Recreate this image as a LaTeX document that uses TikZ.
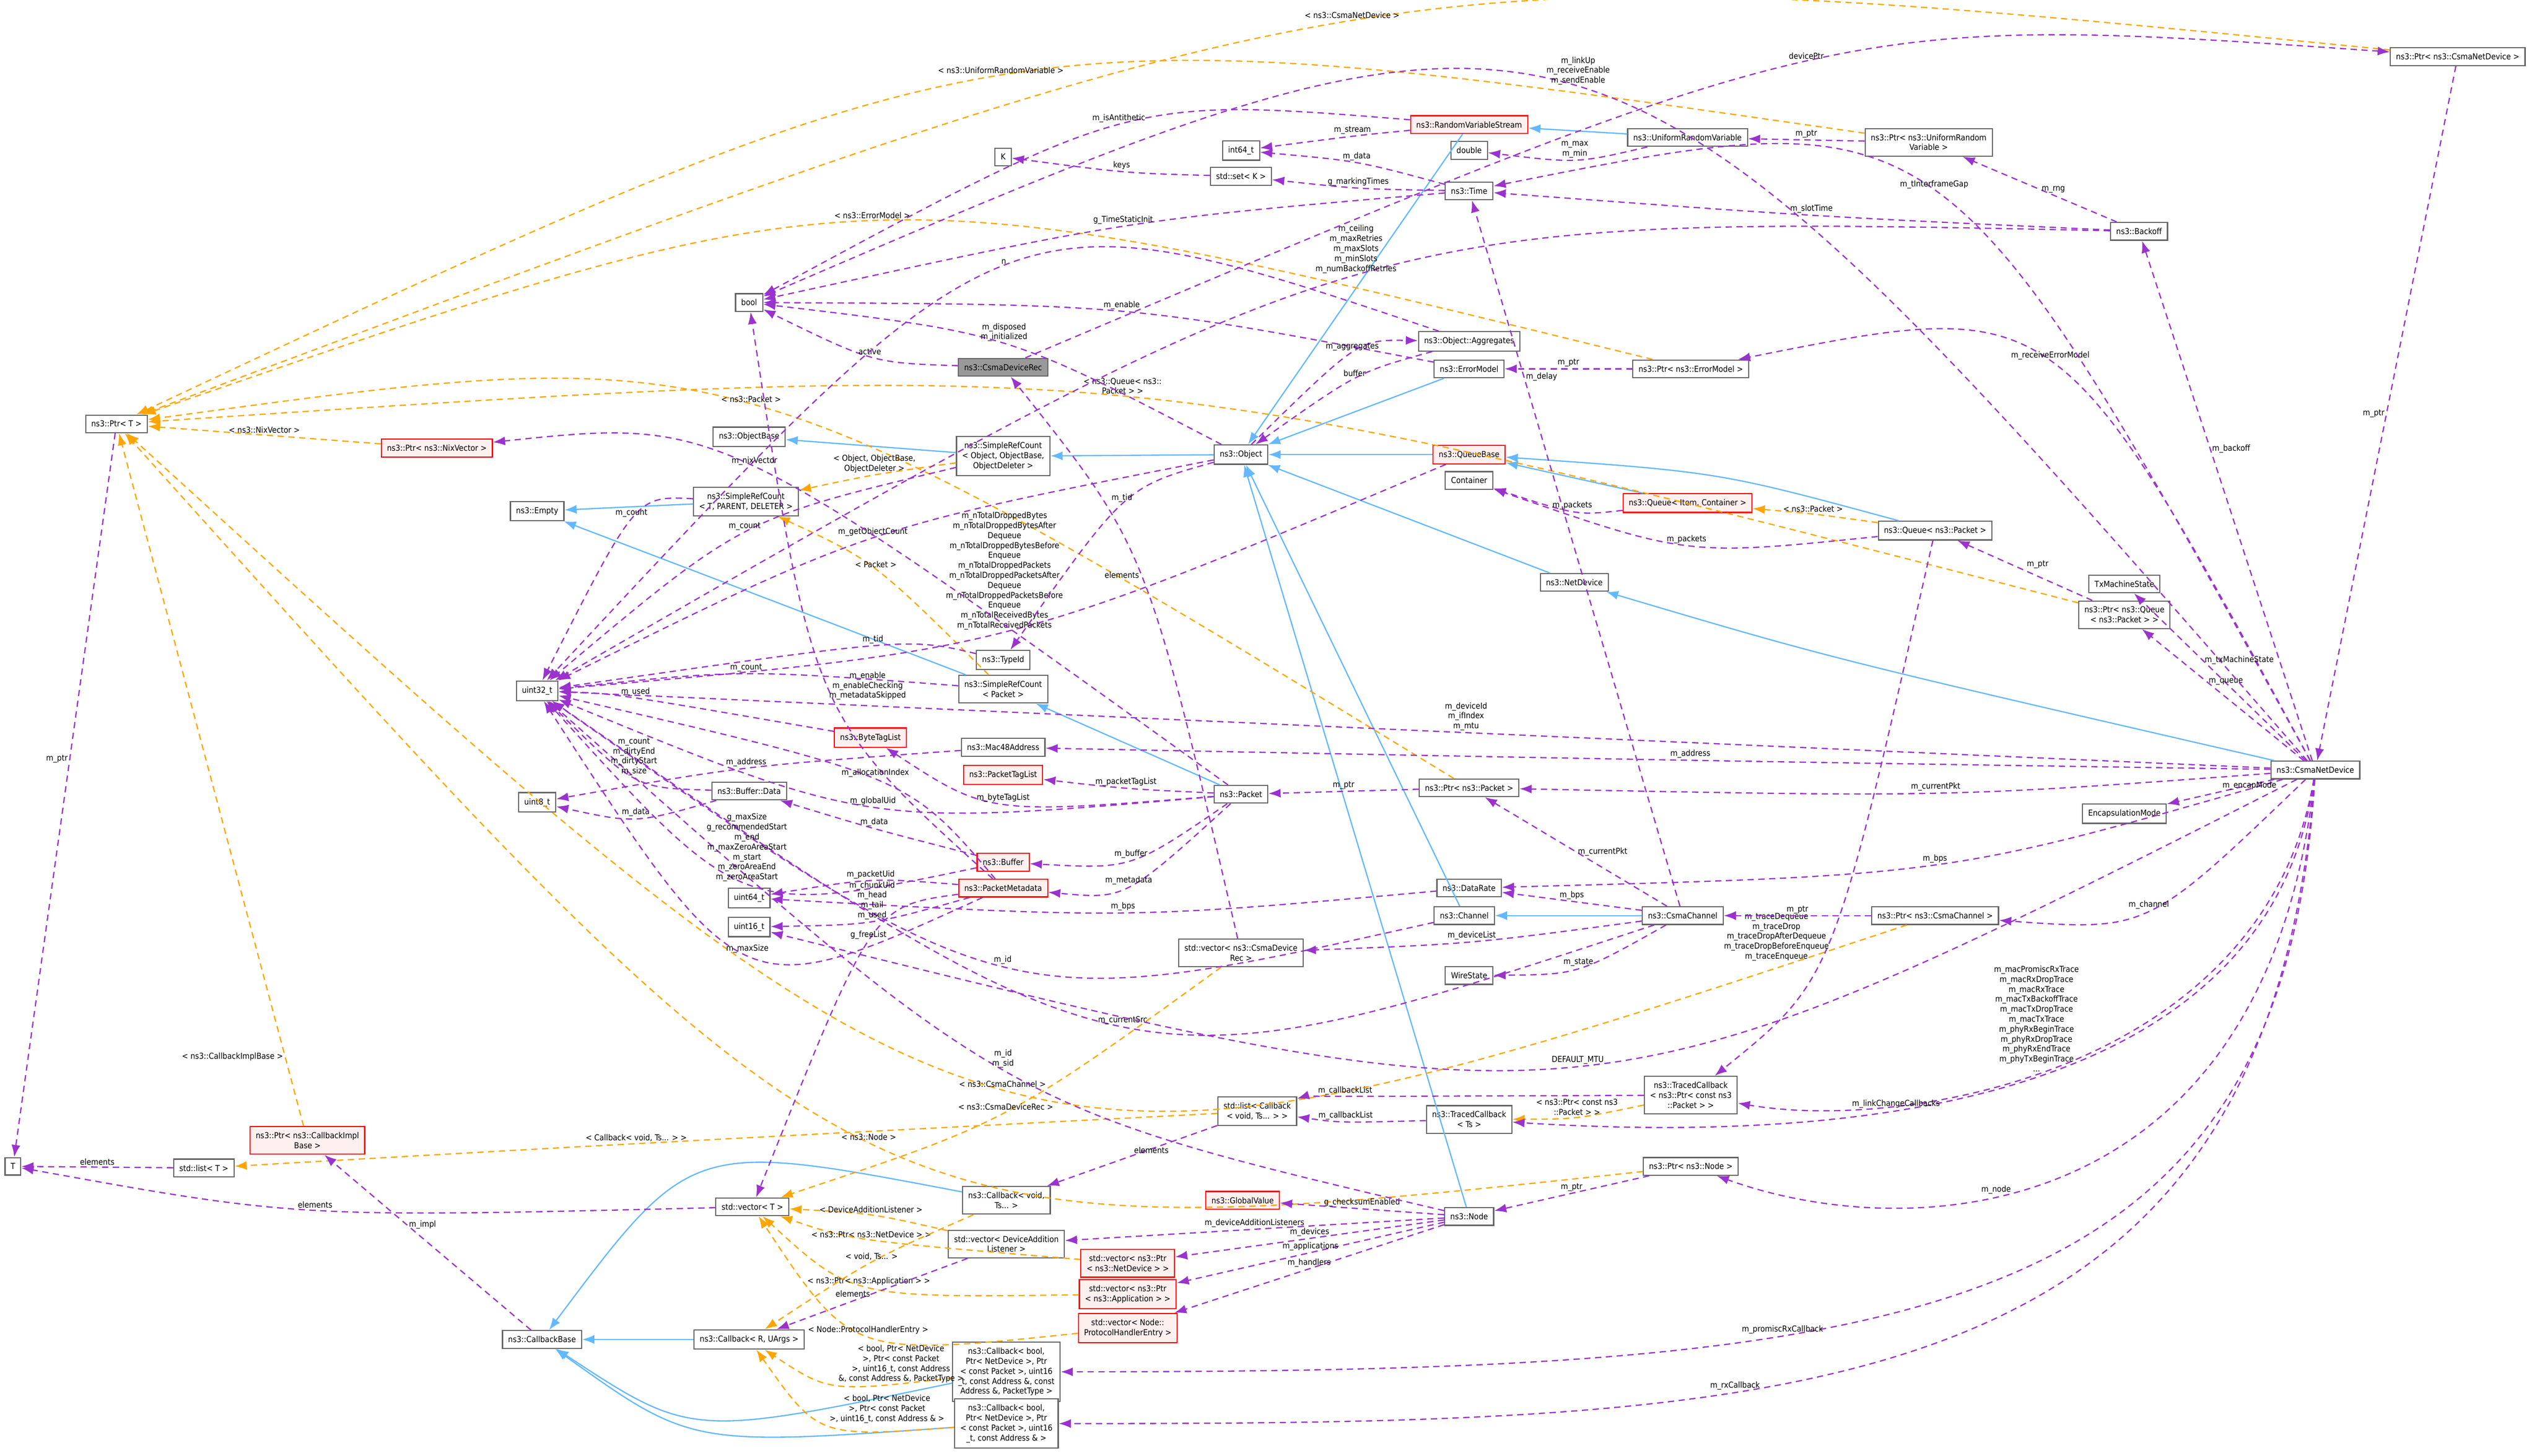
\documentclass[tikz,border=0pt]{standalone}
\usepackage{fontspec}
\setmainfont{DejaVu Sans Condensed}
\usetikzlibrary{arrows.meta,positioning,calc}
\definecolor{usecol}{HTML}{9A32CD}
\definecolor{tmplcol}{HTML}{FFA500}
\definecolor{inhcol}{HTML}{63B8FF}

\begin{document}
\begin{tikzpicture}[x=1mm, y=-1mm,
    font=\fontsize{1.45pt}{1.75pt}\selectfont,
    box/.style={rectangle, draw=black!60, line width=0.2pt, fill=white, inner sep=0.35mm, minimum height=1mm, align=center},
    redbox/.style={box, draw=red, fill=red!6},
    greybox/.style={box, fill=black!40},
    use/.style={-{Latex[length=0.75mm,width=0.55mm]}, draw=usecol, line width=0.22pt, dash pattern=on 1.1pt off 0.8pt},
    tmpl/.style={-{Latex[length=0.75mm,width=0.55mm]}, draw=tmplcol, line width=0.22pt, dash pattern=on 1.1pt off 0.8pt},
    inh/.style={-{Latex[length=0.75mm,width=0.55mm]}, draw=inhcol, line width=0.22pt},
    lbl/.style={fill=none, inner sep=0.25pt, align=center}
]
    \useasboundingbox (0,0) rectangle (156.8,90);

    % types
    \node[box] (ptrT) at (7.2,26.2) {ns3::Ptr< T >};
    \node[box] (T) at (0.8,72.1) {T};
    \node[box] (listT) at (12.6,72.2) {std::list< T >};
    \node[redbox] (ptrCbImpl) at (19.0,70.5) {ns3::Ptr< ns3::CallbackImpl\\Base >};
    \node[box] (cbBase) at (33.5,82.8) {ns3::CallbackBase};
    \node[box] (cbRU) at (46.3,82.8) {ns3::Callback< R, UArgs >};
    \node[box] (vecT) at (46.5,74.6) {std::vector< T >};
    \node[box] (cbVoid) at (62.2,74.2) {ns3::Callback< void,\\Ts... >};
    \node[box] (vecDAL) at (62.2,76.9) {std::vector< DeviceAddition\\Listener >};
    \node[redbox] (vecNetDev) at (69.7,78.1) {std::vector< ns3::Ptr\\< ns3::NetDevice > >};
    \node[redbox] (vecApp) at (69.7,80.0) {std::vector< ns3::Ptr\\< ns3::Application > >};
    \node[redbox] (vecPHE) at (69.7,82.1) {std::vector< Node::\\ProtocolHandlerEntry >};
    \node[box] (cbRx5) at (62.2,84.8) {ns3::Callback< bool,\\Ptr< NetDevice >, Ptr\\< const Packet >, uint16\\\_t, const Address \&, const\\Address \&, PacketType >};
    \node[box] (cbRx4) at (62.2,88.0) {ns3::Callback< bool,\\Ptr< NetDevice >, Ptr\\< const Packet >, uint16\\\_t, const Address \& >};
    \node[redbox] (globalValue) at (76.8,74.2) {ns3::GlobalValue};
    \node[box] (node) at (90.8,75.2) {ns3::Node};
    \node[box] (ptrNode) at (104.5,72.1) {ns3::Ptr< ns3::Node >};
    \node[box] (listCb) at (77.7,68.7) {std::list< Callback\\< void, Ts... > >};
    \node[box] (tracedTs) at (90.8,69.2) {ns3::TracedCallback\\< Ts >};
    \node[box] (tracedPkt) at (104.5,67.7) {ns3::TracedCallback\\< ns3::Ptr< const ns3\\::Packet > >};
    \node[box] (vecDevRec) at (76.7,58.9) {std::vector< ns3::CsmaDevice\\Rec >};
    \node[box] (wireState) at (90.8,60.3) {WireState};
    \node[box] (channel) at (90.5,56.6) {ns3::Channel};
    \node[box] (csmaChannel) at (104.0,56.6) {ns3::CsmaChannel};
    \node[box] (ptrChannel) at (119.6,56.6) {ns3::Ptr< ns3::CsmaChannel >};
    \node[box] (dataRate) at (90.8,54.9) {ns3::DataRate};
    \node[box] (ptrPacket) at (90.8,48.7) {ns3::Ptr< ns3::Packet >};
    \node[box] (packet) at (76.7,49.1) {ns3::Packet};
    \node[redbox] (buffer) at (62.0,53.3) {ns3::Buffer};
    \node[redbox] (pktMeta) at (62.0,54.9) {ns3::PacketMetadata};
    \node[redbox] (pktTag) at (62.0,47.9) {ns3::PacketTagList};
    \node[box] (mac48) at (62.0,46.2) {ns3::Mac48Address};
    \node[redbox] (byteTag) at (53.8,45.6) {ns3::ByteTagList};
    \node[box] (bufData) at (46.3,48.9) {ns3::Buffer::Data};
    \node[box] (uint8) at (33.2,49.6) {uint8\_t};
    \node[box] (uint64) at (46.3,55.5) {uint64\_t};
    \node[box] (uint16) at (46.3,57.3) {uint16\_t};
    \node[box] (uint32) at (33.2,42.7) {uint32\_t};
    \node[box] (refPacket) at (62.0,42.6) {ns3::SimpleRefCount\\< Packet >};
    \node[box] (typeId) at (62.0,40.8) {ns3::TypeId};
    \node[box] (refTPD) at (46.1,31.0) {ns3::SimpleRefCount\\< T, PARENT, DELETER >};
    \node[box] (empty) at (33.2,31.6) {ns3::Empty};
    \node[box] (objBase) at (46.3,27.0) {ns3::ObjectBase};
    \node[box] (refObj) at (62.0,28.2) {ns3::SimpleRefCount\\< Object, ObjectBase,\\ObjectDeleter >};
    \node[redbox] (ptrNix) at (27.0,27.7) {ns3::Ptr< ns3::NixVector >};
    \node[greybox] (devRec) at (62.0,22.7) {ns3::CsmaDeviceRec};
    \node[box] (bool) at (46.3,18.7) {bool};
    \node[box] (object) at (76.7,28.1) {ns3::Object};
    \node[box] (aggr) at (90.8,21.1) {ns3::Object::Aggregates};
    \node[box] (errModel) at (90.8,22.8) {ns3::ErrorModel};
    \node[box] (ptrErr) at (104.5,22.8) {ns3::Ptr< ns3::ErrorModel >};
    \node[redbox] (queueBase) at (90.8,28.1) {ns3::QueueBase};
    \node[box] (container) at (90.8,29.7) {Container};
    \node[redbox] (queueIC) at (104.3,31.1) {ns3::Queue< Item, Container >};
    \node[box] (queuePkt) at (119.6,32.8) {ns3::Queue< ns3::Packet >};
    \node[box] (netDevice) at (97.3,36.0) {ns3::NetDevice};
    \node[box] (txState) at (131.3,36.1) {TxMachineState};
    \node[box] (ptrQueue) at (131.3,38.0) {ns3::Ptr< ns3::Queue\\< ns3::Packet > >};
    \node[box] (encap) at (131.3,50.3) {EncapsulationMode};
    \node[box] (csmaDev) at (143.1,47.6) {ns3::CsmaNetDevice};
    \node[box] (ptrCsmaDev) at (151.9,3.5) {ns3::Ptr< ns3::CsmaNetDevice >};
    \node[redbox] (rvs) at (90.8,7.7) {ns3::RandomVariableStream};
    \node[box] (urv) at (104.3,8.5) {ns3::UniformRandomVariable};
    \node[box] (ptrUrv) at (119.2,8.8) {ns3::Ptr< ns3::UniformRandom\\Variable >};
    \node[box] (double) at (90.8,9.3) {double};
    \node[box] (int64) at (76.7,9.3) {int64\_t};
    \node[box] (K) at (62.0,9.7) {K};
    \node[box] (setK) at (76.7,10.9) {std::set< K >};
    \node[box] (time) at (90.8,11.8) {ns3::Time};
    \node[box] (backoff) at (132.2,14.3) {ns3::Backoff};

    % inheritance
    \draw[inh] (refObj) -- (objBase);
    \draw[inh] (refTPD) -- (empty);
    \draw[inh] (refPacket) .. controls ($1.3333*(50,38)-0.1667*(refPacket)-0.1667*(empty)$) .. (empty);
    \draw[inh] (object) -- (refObj);
    \draw[inh] (packet) -- (refPacket);
    \draw[inh] (rvs) -- (object);
    \draw[inh] (errModel) -- (object);
    \draw[inh] (queueBase) -- (object);
    \draw[inh] (netDevice) -- (object);
    \draw[inh] (channel) -- (object);
    \draw[inh] (node) -- (object);
    \draw[inh] (urv) -- (rvs);
    \draw[inh] (queueIC) -- (queueBase);
    \draw[inh] (queuePkt) .. controls ($1.3333*(106,29.5)-0.1667*(queuePkt)-0.1667*(queueBase)$) .. (queueBase);
    \draw[inh] (csmaDev) .. controls ($1.3333*(115,41.0)-0.1667*(csmaDev)-0.1667*(netDevice)$) .. (netDevice);
    \draw[inh] (csmaChannel) -- (channel);
    \draw[inh] (cbRU) -- (cbBase);
    \draw[inh] (cbVoid) .. controls ($1.3333*(44,72.5)-0.1667*(cbVoid)-0.1667*(cbBase)$) .. (cbBase);
    \draw[inh] (cbRx5) .. controls ($1.3333*(44,87.6)-0.1667*(cbRx5)-0.1667*(cbBase)$) .. (cbBase);
    \draw[inh] (cbRx4) .. controls ($1.3333*(44,88.4)-0.1667*(cbRx4)-0.1667*(cbBase)$) .. (cbBase);

    % template instances
    \draw[tmpl] (ptrCsmaDev) .. controls ($1.3333*(83.9,1.4)-0.1667*(ptrCsmaDev)-0.1667*(ptrT)$) .. (ptrT) node[lbl,midway,above]{< ns3::CsmaNetDevice >};
    \draw[tmpl] (ptrUrv) .. controls ($1.3333*(62.2,4.8)-0.1667*(ptrUrv)-0.1667*(ptrT)$) .. (ptrT) node[lbl,midway,above]{< ns3::UniformRandomVariable >};
    \draw[tmpl] (ptrErr) .. controls ($1.3333*(54.0,13.8)-0.1667*(ptrErr)-0.1667*(ptrT)$) .. (ptrT) node[lbl,midway,above]{< ns3::ErrorModel >};
    \draw[tmpl] (ptrQueue) .. controls ($1.3333*(69.5,24.6)-0.1667*(ptrQueue)-0.1667*(ptrT)$) .. (ptrT) node[lbl,midway,above]{< ns3::Queue< ns3::\\Packet > >};
    \draw[tmpl] (ptrPacket) .. controls ($1.3333*(46.3,25.1)-0.1667*(ptrPacket)-0.1667*(ptrT)$) .. (ptrT) node[lbl,midway,above]{< ns3::Packet >};
    \draw[tmpl] (ptrNix) -- node[lbl,midway,above]{< ns3::NixVector >} (ptrT);
    \draw[tmpl] (ptrChannel) .. controls ($1.3333*(62.1,67.2)-0.1667*(ptrChannel)-0.1667*(ptrT)$) .. (ptrT) node[lbl,midway,above]{< ns3::CsmaChannel >};
    \draw[tmpl] (ptrNode) .. controls ($1.3333*(54.0,70.5)-0.1667*(ptrNode)-0.1667*(ptrT)$) .. (ptrT) node[lbl,midway,above]{< ns3::Node >};
    \draw[tmpl] (ptrCbImpl) -- node[lbl,pos=0.1,left]{< ns3::CallbackImplBase >} (ptrT);
    \draw[tmpl] (listCb) .. controls ($1.3333*(39.4,70.7)-0.1667*(listCb)-0.1667*(listT)$) .. (listT) node[lbl,midway,above]{< Callback< void, Ts... > >};
    \draw[tmpl] (vecDevRec) .. controls ($1.3333*(62.1,68.7)-0.1667*(vecDevRec)-0.1667*(vecT)$) .. (vecT) node[lbl,midway,above]{< ns3::CsmaDeviceRec >};
    \draw[tmpl] (vecDAL) .. controls ($1.3333*(54.0,75.2)-0.1667*(vecDAL)-0.1667*(vecT)$) .. (vecT) node[lbl,midway,above]{< DeviceAdditionListener >};
    \draw[tmpl] (vecNetDev) .. controls ($1.3333*(54.0,76.6)-0.1667*(vecNetDev)-0.1667*(vecT)$) .. (vecT) node[lbl,midway,above]{< ns3::Ptr< ns3::NetDevice > >};
    \draw[tmpl] (vecApp) .. controls ($1.3333*(54.0,79.5)-0.1667*(vecApp)-0.1667*(vecT)$) .. (vecT) node[lbl,midway,above]{< ns3::Ptr< ns3::Application > >};
    \draw[tmpl] (vecPHE) .. controls ($1.3333*(54.0,82.5)-0.1667*(vecPHE)-0.1667*(vecT)$) .. (vecT) node[lbl,midway,above]{< Node::ProtocolHandlerEntry >};
    \draw[tmpl] (cbVoid) .. controls ($1.3333*(54.0,78.0)-0.1667*(cbVoid)-0.1667*(cbRU)$) .. (cbRU) node[lbl,midway,above]{< void, Ts... >};
    \draw[tmpl] (cbRx5) .. controls ($1.3333*(52.0,85.5)-0.1667*(cbRx5)-0.1667*(cbRU)$) .. (cbRU) node[lbl,midway,above right]{< bool, Ptr< NetDevice\\>, Ptr< const Packet\\>, uint16\_t, const Address\\\&, const Address \&, PacketType >};
    \draw[tmpl] (cbRx4) .. controls ($1.3333*(51.5,88.0)-0.1667*(cbRx4)-0.1667*(cbRU)$) .. (cbRU) node[lbl,midway,above right]{< bool, Ptr< NetDevice\\>, Ptr< const Packet\\>, uint16\_t, const Address \& >};
    \draw[tmpl] (refObj) .. controls ($1.3333*(54.0,29.4)-0.1667*(refObj)-0.1667*(refTPD)$) .. (refTPD) node[lbl,midway,above]{< Object, ObjectBase,\\ObjectDeleter >};
    \draw[tmpl] (refPacket) .. controls ($1.3333*(54.0,35.2)-0.1667*(refPacket)-0.1667*(refTPD)$) .. (refTPD) node[lbl,midway,above]{< Packet >};
    \draw[tmpl] (queuePkt) .. controls ($1.3333*(112.0,31.8)-0.1667*(queuePkt)-0.1667*(queueIC)$) .. (queueIC) node[lbl,midway,above]{< ns3::Packet >};
    \draw[tmpl] (tracedPkt) .. controls ($1.3333*(97.5,69.0)-0.1667*(tracedPkt)-0.1667*(tracedTs)$) .. (tracedTs) node[lbl,midway,above]{< ns3::Ptr< const ns3\\::Packet > >};

    % members
    \draw[use] (ptrT) -- node[lbl,pos=0.45,left]{m\_ptr} (T);
    \draw[use] (listT) -- node[lbl,midway,above]{elements} (T);
    \draw[use] (vecT) .. controls ($1.3333*(19.7,74.8)-0.1667*(vecT)-0.1667*(T)$) .. (T) node[lbl,midway,above]{elements};
    \draw[use] (cbBase) -- node[lbl,pos=0.6,right]{m\_impl} (ptrCbImpl);
    \draw[use] (devRec) .. controls ($1.3333*(54.0,22.0)-0.1667*(devRec)-0.1667*(bool)$) .. (bool) node[lbl,midway,above]{active};
    \draw[use] (object) .. controls ($1.3333*(62.1,21.3)-0.1667*(object)-0.1667*(bool)$) .. (bool) node[lbl,midway,above]{m\_disposed\\m\_initialized};
    \draw[use] (errModel) .. controls ($1.3333*(69.5,19.3)-0.1667*(errModel)-0.1667*(bool)$) .. (bool) node[lbl,midway,above]{m\_enable};
    \draw[use] (csmaDev) .. controls ($1.3333*(97.5,5.5)-0.1667*(csmaDev)-0.1667*(bool)$) .. (bool) node[lbl,midway,above]{m\_linkUp\\m\_receiveEnable\\m\_sendEnable};
    \draw[use] (rvs) .. controls ($1.3333*(69.5,7.8)-0.1667*(rvs)-0.1667*(bool)$) .. (bool) node[lbl,midway,above]{m\_isAntithetic};
    \draw[use] (time) .. controls ($1.3333*(69.5,14.0)-0.1667*(time)-0.1667*(bool)$) .. (bool) node[lbl,midway,above]{g\_TimeStaticInit};
    \draw[use] (pktMeta) .. controls ($1.3333*(51.2,42.4)-0.1667*(pktMeta)-0.1667*(bool)$) .. (bool) node[lbl,midway,right]{m\_enable\\m\_enableChecking\\m\_metadataSkipped};
    \draw[use] (aggr) .. controls ($1.3333*(62.2,16.6)-0.1667*(aggr)-0.1667*(uint32)$) .. (uint32) node[lbl,midway,above]{n};
    \draw[use] (object) .. controls ($1.3333*(83.9,21.9)-0.1667*(object)-0.1667*(aggr)$) .. (aggr) node[lbl,midway,above]{m\_aggregates};
    \draw[use] (aggr) .. controls ($1.3333*(83.9,23.4)-0.1667*(aggr)-0.1667*(object)$) .. (object) node[lbl,midway,above]{buffer};
    \draw[use] (ptrErr) -- node[lbl,midway,above]{m\_ptr} (errModel);
    \draw[use] (csmaDev) .. controls ($1.3333*(126.4,22.5)-0.1667*(csmaDev)-0.1667*(ptrErr)$) .. (ptrErr) node[lbl,midway,above]{m\_receiveErrorModel};
    \draw[use] (csmaChannel) -- node[lbl,pos=0.75,right]{m\_delay} (time);
    \draw[use] (csmaDev) .. controls ($1.3333*(119.4,11.9)-0.1667*(csmaDev)-0.1667*(time)$) .. (time) node[lbl,midway,above]{m\_tInterframeGap};
    \draw[use] (backoff) .. controls ($1.3333*(112.0,13.3)-0.1667*(backoff)-0.1667*(time)$) .. (time) node[lbl,midway,above]{m\_slotTime};
    \draw[use] (backoff) .. controls ($1.3333*(83.9,17.1)-0.1667*(backoff)-0.1667*(uint32)$) .. (uint32) node[lbl,midway,above]{m\_ceiling\\m\_maxRetries\\m\_maxSlots\\m\_minSlots\\m\_numBackoffRetries};
    \draw[use] (backoff) -- node[lbl,midway,right]{m\_rng} (ptrUrv);
    \draw[use] (csmaDev) -- node[lbl,pos=0.6,right]{m\_backoff} (backoff);
    \draw[use] (ptrUrv) -- node[lbl,midway,above]{m\_ptr} (urv);
    \draw[use] (urv) .. controls ($1.3333*(97.5,9.8)-0.1667*(urv)-0.1667*(double)$) .. (double) node[lbl,midway,above]{m\_max\\m\_min};
    \draw[use] (rvs) .. controls ($1.3333*(83.9,8.4)-0.1667*(rvs)-0.1667*(int64)$) .. (int64) node[lbl,midway,above]{m\_stream};
    \draw[use] (time) .. controls ($1.3333*(83.9,10.1)-0.1667*(time)-0.1667*(int64)$) .. (int64) node[lbl,midway,above]{m\_data};
    \draw[use] (time) .. controls ($1.3333*(83.9,11.6)-0.1667*(time)-0.1667*(setK)$) .. (setK) node[lbl,midway,above]{g\_markingTimes};
    \draw[use] (setK) .. controls ($1.3333*(69.5,10.6)-0.1667*(setK)-0.1667*(K)$) .. (K) node[lbl,midway,above]{keys};
    \draw[use] (devRec) .. controls ($1.3333*(112.0,3.9)-0.1667*(devRec)-0.1667*(ptrCsmaDev)$) .. (ptrCsmaDev) node[lbl,midway,above]{devicePtr};
    \draw[use] (ptrCsmaDev) -- node[lbl,pos=0.5,left]{m\_ptr} (csmaDev);
    \draw[use] (csmaDev) -- node[lbl,pos=0.6,right]{m\_txMachineState} (txState);
    \draw[use] (csmaDev) -- node[lbl,pos=0.6,right]{m\_queue} (ptrQueue);
    \draw[use] (ptrQueue) -- node[lbl,midway,above right]{m\_ptr} (queuePkt);
    \draw[use] (queueIC) .. controls ($1.3333*(97.5,31.5)-0.1667*(queueIC)-0.1667*(container)$) .. (container) node[lbl,midway,above]{m\_packets};
    \draw[use] (queuePkt) .. controls ($1.3333*(104.5,33.6)-0.1667*(queuePkt)-0.1667*(container)$) .. (container) node[lbl,midway,above]{m\_packets};
    \draw[use] (queueBase) .. controls ($1.3333*(62.1,39.0)-0.1667*(queueBase)-0.1667*(uint32)$) .. (uint32) node[lbl,midway,above]{m\_nTotalDroppedBytes\\m\_nTotalDroppedBytesAfter\\Dequeue\\m\_nTotalDroppedBytesBefore\\Enqueue\\m\_nTotalDroppedPackets\\m\_nTotalDroppedPacketsAfter\\Dequeue\\m\_nTotalDroppedPacketsBefore\\Enqueue\\m\_nTotalReceivedBytes\\m\_nTotalReceivedPackets};
    \draw[use] (queuePkt) .. controls ($1.3333*(113.0,58.0)-0.1667*(queuePkt)-0.1667*(tracedPkt)$) .. (tracedPkt) node[lbl,midway,left]{m\_traceDequeue\\m\_traceDrop\\m\_traceDropAfterDequeue\\m\_traceDropBeforeEnqueue\\m\_traceEnqueue};
    \draw[use] (csmaDev) .. controls (140,66) and (118,70) .. (tracedPkt) node[lbl,pos=0.55,above]{m\_macPromiscRxTrace\\m\_macRxDropTrace\\m\_macRxTrace\\m\_macTxBackoffTrace\\m\_macTxDropTrace\\m\_macTxTrace\\m\_phyRxBeginTrace\\m\_phyRxDropTrace\\m\_phyRxEndTrace\\m\_phyTxBeginTrace\\...};
    \draw[use] (csmaDev) .. controls (140,70) and (110,70.4) .. (tracedTs) node[lbl,pos=0.6,above]{m\_linkChangeCallbacks};
    \draw[use] (tracedPkt) .. controls ($1.3333*(83.2,67.9)-0.1667*(tracedPkt)-0.1667*(listCb)$) .. (listCb) node[lbl,midway,above]{m\_callbackList};
    \draw[use] (tracedTs) .. controls ($1.3333*(83.2,69.3)-0.1667*(tracedTs)-0.1667*(listCb)$) .. (listCb) node[lbl,midway,above]{m\_callbackList};
    \draw[use] (listCb) -- node[lbl,midway,above right]{elements} (cbVoid);
    \draw[use] (csmaDev) .. controls (140,76) and (118,77) .. (ptrNode) node[lbl,pos=0.6,above]{m\_node};
    \draw[use] (ptrNode) -- node[lbl,midway,above]{m\_ptr} (node);
    \draw[use] (node) -- node[lbl,midway,above]{g\_checksumEnabled} (globalValue);
    \draw[use] (node) -- node[lbl,midway,above]{m\_deviceAdditionListeners} (vecDAL);
    \draw[use] (node) -- node[lbl,midway,above]{m\_devices} (vecNetDev);
    \draw[use] (node) -- node[lbl,midway,above]{m\_applications} (vecApp);
    \draw[use] (node) -- node[lbl,midway,above]{m\_handlers} (vecPHE);
    \draw[use] (node) .. controls ($1.3333*(62.1,66.1)-0.1667*(node)-0.1667*(uint32)$) .. (uint32) node[lbl,midway,above]{m\_id\\m\_sid};
    \draw[use] (vecDAL) -- node[lbl,midway,left]{elements} (cbRU);
    \draw[use] (csmaDev) .. controls (141,82) and (118,84.8) .. (cbRx5) node[lbl,pos=0.65,above]{m\_promiscRxCallback};
    \draw[use] (csmaDev) .. controls (140,87) and (112,88) .. (cbRx4) node[lbl,pos=0.65,above]{m\_rxCallback};
    \draw[use] (csmaDev) .. controls ($1.3333*(132.4,56.2)-0.1667*(csmaDev)-0.1667*(ptrChannel)$) .. (ptrChannel) node[lbl,midway,above]{m\_channel};
    \draw[use] (ptrChannel) -- node[lbl,midway,above]{m\_ptr} (csmaChannel);
    \draw[use] (csmaChannel) -- node[lbl,midway,above]{m\_bps} (dataRate);
    \draw[use] (csmaDev) .. controls ($1.3333*(119.6,53.4)-0.1667*(csmaDev)-0.1667*(dataRate)$) .. (dataRate) node[lbl,midway,above]{m\_bps};
    \draw[use] (dataRate) .. controls ($1.3333*(69.5,56.4)-0.1667*(dataRate)-0.1667*(uint64)$) .. (uint64) node[lbl,midway,above]{m\_bps};
    \draw[use] (csmaChannel) -- node[lbl,midway,right]{m\_currentPkt} (ptrPacket);
    \draw[use] (csmaDev) .. controls ($1.3333*(119.6,49.0)-0.1667*(csmaDev)-0.1667*(ptrPacket)$) .. (ptrPacket) node[lbl,midway,above]{m\_currentPkt};
    \draw[use] (ptrPacket) -- node[lbl,midway,above]{m\_ptr} (packet);
    \draw[use] (csmaChannel) .. controls ($1.3333*(97.5,59.8)-0.1667*(csmaChannel)-0.1667*(wireState)$) .. (wireState) node[lbl,midway,above]{m\_state};
    \draw[use] (csmaChannel) .. controls ($1.3333*(90.8,58.2)-0.1667*(csmaChannel)-0.1667*(vecDevRec)$) .. (vecDevRec) node[lbl,midway,above]{m\_deviceList};
    \draw[use] (vecDevRec) .. controls ($1.3333*(70.5,35.6)-0.1667*(vecDevRec)-0.1667*(devRec)$) .. (devRec) node[lbl,midway,left]{elements};
    \draw[use] (csmaChannel) .. controls ($1.3333*(69.5,63.3)-0.1667*(csmaChannel)-0.1667*(uint32)$) .. (uint32) node[lbl,midway,above]{m\_currentSrc};
    \draw[use] (channel) .. controls ($1.3333*(62.1,59.6)-0.1667*(channel)-0.1667*(uint32)$) .. (uint32) node[lbl,midway,above]{m\_id};
    \draw[use] (csmaDev) .. controls ($1.3333*(90.8,45.3)-0.1667*(csmaDev)-0.1667*(uint32)$) .. (uint32) node[lbl,midway,above]{m\_deviceId\\m\_ifIndex\\m\_mtu};
    \draw[use] (csmaDev) .. controls ($1.3333*(97.5,65.8)-0.1667*(csmaDev)-0.1667*(uint16)$) .. (uint16) node[lbl,midway,above]{DEFAULT\_MTU};
    \draw[use] (csmaDev) -- node[lbl,midway,above right]{m\_encapMode} (encap);
    \draw[use] (csmaDev) .. controls ($1.3333*(104.5,47.0)-0.1667*(csmaDev)-0.1667*(mac48)$) .. (mac48) node[lbl,midway,above]{m\_address};
    \draw[use] (mac48) .. controls ($1.3333*(46.3,47.5)-0.1667*(mac48)-0.1667*(uint8)$) .. (uint8) node[lbl,midway,above]{m\_address};
    \draw[use] (object) .. controls ($1.3333*(54.0,33.3)-0.1667*(object)-0.1667*(uint32)$) .. (uint32) node[lbl,midway,above]{m\_getObjectCount};
    \draw[use] (object) .. controls ($1.3333*(69.5,31.2)-0.1667*(object)-0.1667*(typeId)$) .. (typeId) node[lbl,midway,above]{m\_tid};
    \draw[use] (typeId) .. controls ($1.3333*(54.0,40.0)-0.1667*(typeId)-0.1667*(uint32)$) .. (uint32) node[lbl,midway,above]{m\_tid};
    \draw[use] (refTPD) .. controls ($1.3333*(39.4,32.2)-0.1667*(refTPD)-0.1667*(uint32)$) .. (uint32) node[lbl,midway,above]{m\_count};
    \draw[use] (refObj) .. controls ($1.3333*(46.3,32.9)-0.1667*(refObj)-0.1667*(uint32)$) .. (uint32) node[lbl,midway,above]{m\_count};
    \draw[use] (refPacket) .. controls ($1.3333*(46.3,41.7)-0.1667*(refPacket)-0.1667*(uint32)$) .. (uint32) node[lbl,midway,above]{m\_count};
    \draw[use] (byteTag) .. controls ($1.3333*(39.4,43.2)-0.1667*(byteTag)-0.1667*(uint32)$) .. (uint32) node[lbl,midway,above]{m\_used};
    \draw[use] (packet) .. controls ($1.3333*(62.1,49.6)-0.1667*(packet)-0.1667*(byteTag)$) .. (byteTag) node[lbl,midway,above]{m\_byteTagList};
    \draw[use] (packet) .. controls ($1.3333*(69.5,48.7)-0.1667*(packet)-0.1667*(pktTag)$) .. (pktTag) node[lbl,midway,above]{m\_packetTagList};
    \draw[use] (packet) .. controls ($1.3333*(69.8,53.1)-0.1667*(packet)-0.1667*(buffer)$) .. (buffer) node[lbl,midway,above]{m\_buffer};
    \draw[use] (packet) .. controls ($1.3333*(69.5,54.7)-0.1667*(packet)-0.1667*(pktMeta)$) .. (pktMeta) node[lbl,midway,above]{m\_metadata};
    \draw[use] (packet) .. controls ($1.3333*(46.3,29.0)-0.1667*(packet)-0.1667*(ptrNix)$) .. (ptrNix) node[lbl,midway,above]{m\_nixVector};
    \draw[use] (packet) .. controls ($1.3333*(54.0,49.8)-0.1667*(packet)-0.1667*(uint32)$) .. (uint32) node[lbl,midway,above]{m\_globalUid};
    \draw[use] (buffer) .. controls ($1.3333*(54.0,51.2)-0.1667*(buffer)-0.1667*(bufData)$) .. (bufData) node[lbl,midway,above]{m\_data};
    \draw[use] (bufData) .. controls ($1.3333*(39.4,48.0)-0.1667*(bufData)-0.1667*(uint32)$) .. (uint32) node[lbl,midway,above]{m\_count\\m\_dirtyEnd\\m\_dirtyStart\\m\_size};
    \draw[use] (bufData) .. controls ($1.3333*(39.4,50.5)-0.1667*(bufData)-0.1667*(uint8)$) .. (uint8) node[lbl,midway,above]{m\_data};
    \draw[use] (buffer) .. controls ($1.3333*(46.3,54.5)-0.1667*(buffer)-0.1667*(uint32)$) .. (uint32) node[lbl,midway,above]{g\_maxSize\\g\_recommendedStart\\m\_end\\m\_maxZeroAreaStart\\m\_start\\m\_zeroAreaEnd\\m\_zeroAreaStart};
    \draw[use] (pktMeta) .. controls ($1.3333*(54.0,48.2)-0.1667*(pktMeta)-0.1667*(uint32)$) .. (uint32) node[lbl,midway,above]{m\_allocationIndex};
    \draw[use] (pktMeta) .. controls ($1.3333*(54.0,54.5)-0.1667*(pktMeta)-0.1667*(uint64)$) .. (uint64) node[lbl,midway,above]{m\_packetUid};
    \draw[use] (pktMeta) .. controls ($1.3333*(54.0,56.9)-0.1667*(pktMeta)-0.1667*(uint16)$) .. (uint16) node[lbl,midway,above]{m\_chunkUid\\m\_head\\m\_tail\\m\_used};
    \draw[use] (pktMeta) .. controls ($1.3333*(54.0,58.2)-0.1667*(pktMeta)-0.1667*(vecT)$) .. (vecT) node[lbl,midway,above]{g\_freeList};
    \draw[use] (pktMeta) .. controls ($1.3333*(46.3,58.9)-0.1667*(pktMeta)-0.1667*(uint32)$) .. (uint32) node[lbl,midway,above]{m\_maxSize};
\end{tikzpicture}
\end{document}
